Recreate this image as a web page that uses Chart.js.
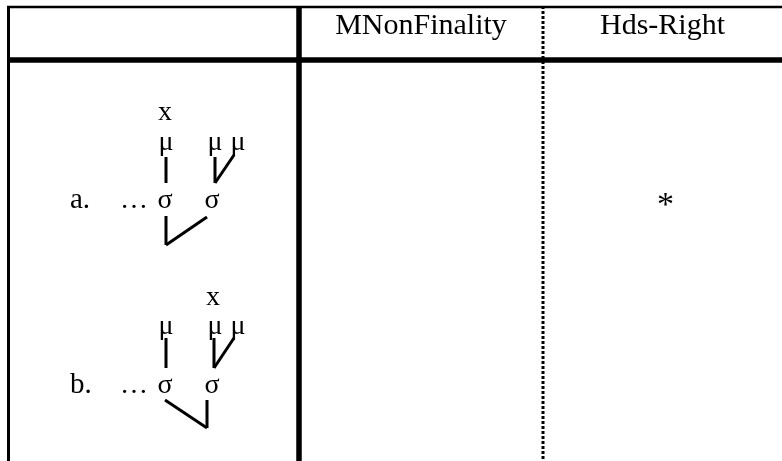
<!DOCTYPE html>
<html>
<head>
<meta charset="utf-8">
<script src="https://cdn.jsdelivr.net/npm/chart.js@4.4.0/dist/chart.umd.min.js"></script>
<style>
  html, body { margin: 0; padding: 0; background: #fff; }
  #wrap { width: 782px; height: 461px; position: relative; }
</style>
</head>
<body>
<div id="wrap"><canvas id="tableau"></canvas></div>
<script>
// tableau content
const headers = ["", "MNonFinality", "Hds-Right"];
const candidates = ["a.", "b."];
const violations = [["", "*"], ["", ""]];

// rules of the table (x of the vertical rules, y of the horizontal rules)
const columnRules = [8.5, 299, 543, 782];
const rowRules = [7, 60, 461];

// tree labels per candidate: [text, x, baseline y]
const treeLabelsA = [
  ["x", 165, 120], ["μ", 166, 150], ["μ", 215, 150], ["μ", 238, 150],
  ["…", 134, 208], ["σ", 165, 208], ["σ", 212, 208]
];
const treeLabelsB = [
  ["x", 213, 305], ["μ", 166, 334], ["μ", 215, 334], ["μ", 238, 334],
  ["…", 134, 393], ["σ", 165, 393], ["σ", 212, 393]
];
const candidateBaselines = [208, 393];

// association lines of the trees: [x1, y1, x2, y2]
const treeLinesA = [
  [166, 157, 166, 183], [215, 157, 215, 183], [234, 155, 215, 183],
  [166, 216, 166, 245], [166, 245, 207, 217]
];
const treeLinesB = [
  [166, 338, 166, 368], [214, 338, 214, 368], [234, 338, 214, 368],
  [165, 400, 207, 428], [207, 400, 207, 428]
];

const black = "#000";
const serif = "'Liberation Serif', 'Times New Roman', serif";

function seg(x1, y1, x2, y2, width, dash) {
  return {
    type: "line",
    data: [{ x: x1, y: y1 }, { x: x2, y: y2 }],
    borderColor: black,
    borderWidth: width,
    borderDash: dash || [],
    borderCapStyle: "butt",
    pointRadius: 0,
    showLine: true,
    clip: false
  };
}

const datasets = [];
// horizontal rules
datasets.push(seg(columnRules[0] - 1.5, rowRules[0], columnRules[3], rowRules[0], 2.5));
datasets.push(seg(columnRules[0] - 1.5, rowRules[1], columnRules[3], rowRules[1], 5.5));
// vertical rules
datasets.push(seg(columnRules[0], rowRules[0] - 1, columnRules[0], rowRules[2], 3));
datasets.push(seg(columnRules[1], rowRules[0] - 1, columnRules[1], rowRules[2], 5.5));
datasets.push(seg(columnRules[2], rowRules[0] - 1, columnRules[2], rowRules[2], 3, [3, 2]));
// trees
treeLinesA.concat(treeLinesB).forEach(l => datasets.push(seg(l[0], l[1], l[2], l[3], 3)));

const textPlugin = {
  id: "tableauText",
  afterDatasetsDraw(chart) {
    const ctx = chart.ctx;
    const sx = chart.scales.x, sy = chart.scales.y;
    ctx.save();
    ctx.fillStyle = black;
    ctx.textBaseline = "alphabetic";

    // header row
    ctx.font = "30px " + serif;
    ctx.textAlign = "center";
    headers.forEach((h, i) => {
      if (!h) return;
      const cx = (columnRules[i] + columnRules[i + 1]) / 2;
      ctx.fillText(h, sx.getPixelForValue(cx), sy.getPixelForValue(34));
    });

    // candidate letters
    ctx.font = "29px " + serif;
    ctx.textAlign = "left";
    candidates.forEach((c, i) => {
      ctx.fillText(c, sx.getPixelForValue(70), sy.getPixelForValue(candidateBaselines[i]));
    });

    // tree labels
    ctx.font = "28px " + serif;
    ctx.textAlign = "center";
    treeLabelsA.concat(treeLabelsB).forEach(t => {
      ctx.fillText(t[0], sx.getPixelForValue(t[1]), sy.getPixelForValue(t[2]));
    });

    // violation marks
    ctx.font = "34px " + serif;
    violations.forEach((row, i) => {
      row.forEach((v, j) => {
        if (!v) return;
        const cx = (columnRules[j + 1] + columnRules[j + 2]) / 2 + 3;
        ctx.fillText(v, sx.getPixelForValue(cx), sy.getPixelForValue(candidateBaselines[i] + 7));
      });
    });
    ctx.restore();
  }
};

new Chart(document.getElementById("tableau"), {
  type: "scatter",
  data: { datasets: datasets },
  options: {
    responsive: true,
    maintainAspectRatio: false,
    animation: false,
    layout: { padding: 0 },
    plugins: { legend: { display: false }, tooltip: { enabled: false } },
    scales: {
      x: { type: "linear", min: 0, max: 782, display: false },
      y: { type: "linear", min: 0, max: 461, reverse: true, display: false }
    }
  },
  plugins: [textPlugin]
});
</script>
</body>
</html>
